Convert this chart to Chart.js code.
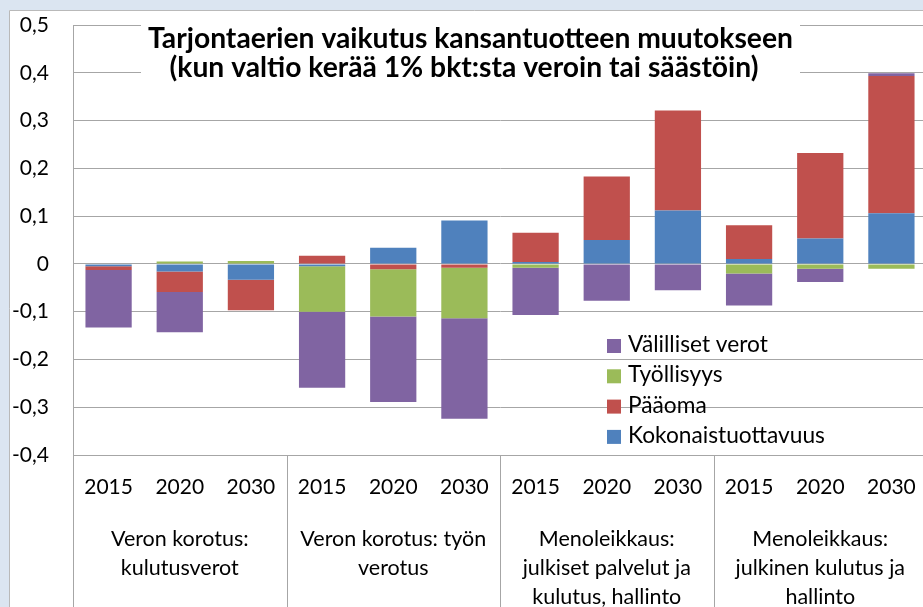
<!DOCTYPE html>
<html>
<head>
<meta charset="utf-8">
<script src="https://cdn.jsdelivr.net/npm/chart.js@4"></script>
<style>
  html, body { margin: 0; padding: 0; overflow: hidden; background: #dbe5f1; }
  #wrap { width: 923px; height: 607px; overflow: hidden; position: relative; }
  #chart { position: absolute; left: 0; top: 0; }
</style>
</head>
<body>
<div id="wrap"><canvas id="chart" width="940" height="607"></canvas></div>
<script>
// data
const years = ['2015', '2020', '2030', '2015', '2020', '2030', '2015', '2020', '2030', '2015', '2020', '2030'];
const groups = [
  ['Veron korotus:', 'kulutusverot'],
  ['Veron korotus: työn', 'verotus'],
  ['Menoleikkaus:', 'julkiset palvelut ja', 'kulutus, hallinto'],
  ['Menoleikkaus:', 'julkinen kulutus ja', 'hallinto']
];
const yTicks = [-0.4, -0.3, -0.2, -0.1, 0, 0.1, 0.2, 0.3, 0.4, 0.5];

const kokonaistuottavuus = [-0.005, -0.016, -0.033, -0.005, 0.034, 0.091, 0.004, 0.050, 0.112, 0.010, 0.053, 0.106];
const paaoma = [-0.008, -0.043, -0.064, 0.017, -0.011, -0.008, 0.061, 0.133, 0.209, 0.071, 0.179, 0.287];
const tyollisyys = [0, 0.005, 0.006, -0.095, -0.099, -0.106, -0.008, 0, 0, -0.020, -0.010, -0.010];
const valillisetVerot = [-0.120, -0.084, 0, -0.159, -0.179, -0.210, -0.099, -0.077, -0.055, -0.067, -0.028, 0.006];

const titleLines = ['Tarjontaerien vaikutus kansantuotteen muutokseen', '(kun valtio kerää 1% bkt:sta veroin tai säästöin)'];

const FONT = 'Lato';
const GRID = '#a6a6a6';

// background panel, title, legend, group labels
const decor = {
  id: 'decor',
  beforeDraw(chart) {
    const ctx = chart.ctx;
    ctx.save();
    ctx.fillStyle = '#dbe5f1';
    ctx.fillRect(0, 0, chart.width, chart.height);
    ctx.fillStyle = '#ffffff';
    ctx.fillRect(9, 10, chart.width, chart.height);
    ctx.strokeStyle = '#b9b9b9';
    ctx.lineWidth = 1;
    ctx.beginPath();
    ctx.moveTo(9.5, chart.height);
    ctx.lineTo(9.5, 10.5);
    ctx.lineTo(chart.width, 10.5);
    ctx.stroke();
    ctx.restore();
  },
  beforeDatasetsDraw(chart) {
    const ctx = chart.ctx;
    ctx.save();
    // title box hides the top gridlines
    ctx.fillStyle = '#ffffff';
    ctx.fillRect(141, 18, 659, 80);
    ctx.fillStyle = '#000000';
    ctx.textAlign = 'center';
    ctx.textBaseline = 'alphabetic';
    ctx.font = 'bold 100px ' + FONT;
    const size = 100 * 645 / ctx.measureText(titleLines[0]).width;
    ctx.font = 'bold ' + size.toFixed(2) + 'px ' + FONT;
    ctx.fillText(titleLines[0], 470.5, 48);
    ctx.fillText(titleLines[1], 464, 77);
    ctx.restore();
  },
  afterDraw(chart) {
    const ctx = chart.ctx;
    const x = chart.scales.x;
    const area = chart.chartArea;
    ctx.save();

    // legend, in Excel's reversed order
    const ds = chart.data.datasets.slice().reverse();
    ctx.font = '100px ' + FONT;
    const lsize = 100 * 197 / ctx.measureText('Kokonaistuottavuus').width;
    ctx.font = lsize.toFixed(2) + 'px ' + FONT;
    ctx.textAlign = 'left';
    ctx.textBaseline = 'alphabetic';
    ds.forEach((d, i) => {
      const by = 352 + i * 30.3;
      ctx.fillStyle = d.backgroundColor;
      ctx.fillRect(607, by - 13, 14, 14);
      ctx.fillStyle = '#000000';
      ctx.fillText(d.label, 628, by);
    });

    // group separators below the axis
    ctx.strokeStyle = GRID;
    ctx.lineWidth = 1;
    ctx.beginPath();
    const step = (area.right - area.left) / years.length;
    for (let g = 0; g <= groups.length; g++) {
      const gx = Math.round(area.left + g * 3 * step) + 0.5;
      ctx.moveTo(gx, area.bottom);
      ctx.lineTo(gx, chart.height);
    }
    ctx.stroke();

    // group labels
    ctx.fillStyle = '#000000';
    ctx.textAlign = 'center';
    ctx.font = '21.5px ' + FONT;
    groups.forEach((lines, g) => {
      const cx = (x.getPixelForValue(g * 3) + x.getPixelForValue(g * 3 + 2)) / 2;
      lines.forEach((t, j) => ctx.fillText(t, cx, 546 + j * 29));
    });
    ctx.restore();
  }
};

const ctx = document.getElementById('chart').getContext('2d');
const chart = new Chart(ctx, {
  type: 'bar',
  data: {
    labels: years,
    datasets: [
      { label: 'Kokonaistuottavuus', data: kokonaistuottavuus, backgroundColor: '#4f81bd' },
      { label: 'Pääoma', data: paaoma, backgroundColor: '#c0504d' },
      { label: 'Työllisyys', data: tyollisyys, backgroundColor: '#9bbb59' },
      { label: 'Välilliset verot', data: valillisetVerot, backgroundColor: '#8064a2' }
    ]
  },
  options: {
    responsive: false,
    animation: false,
    layout: { padding: { top: 25, right: 13, bottom: 0, left: 0 } },
    datasets: {
      bar: { categoryPercentage: 1, barPercentage: 0.65, borderWidth: 0 }
    },
    plugins: {
      legend: { display: false },
      title: { display: false },
      tooltip: { enabled: false }
    },
    scales: {
      x: {
        stacked: true,
        grid: { display: false, drawTicks: false },
        border: { display: true, color: GRID },
        ticks: { color: '#000000', font: { family: FONT, size: 21 }, padding: 20, maxRotation: 0, autoSkip: false },
        afterFit: s => { s.height = 152; }
      },
      y: {
        stacked: true,
        min: yTicks[0],
        max: yTicks[yTicks.length - 1],
        afterBuildTicks: s => { s.ticks = yTicks.map(v => ({ value: v })); },
        grid: { color: GRID, drawTicks: false },
        border: { display: true, color: GRID },
        ticks: {
          color: '#000000',
          font: { family: FONT, size: 21, lineHeight: 0.05 },
          padding: 24,
          callback: v => Math.abs(v) < 1e-9 ? '0' : v.toFixed(1).replace('.', ',')
        },
        afterFit: s => { s.width = 73; }
      }
    }
  },
  plugins: [decor]
});
</script>
</body>
</html>
